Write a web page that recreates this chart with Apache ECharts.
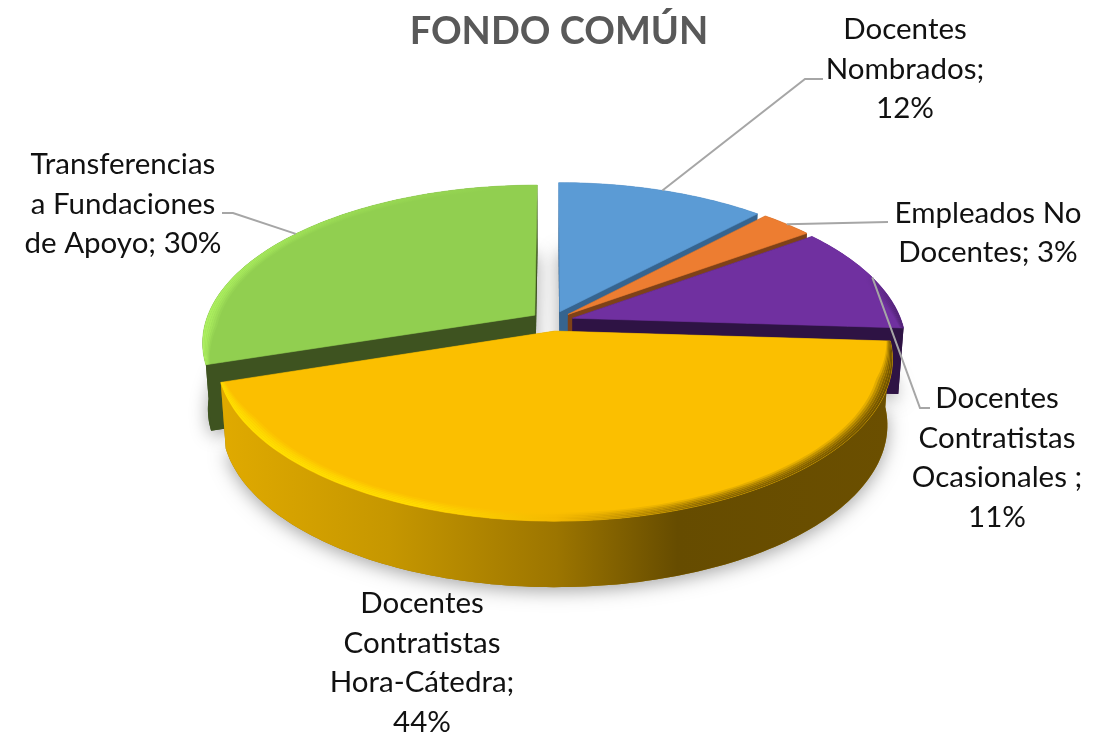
<!DOCTYPE html>
<html>
<head>
<meta charset="utf-8">
<style>html,body{margin:0;padding:0;background:#fff}#c{width:1108px;height:732px}</style>
<script src="https://cdn.jsdelivr.net/npm/echarts@6/dist/echarts.min.js"></script>
</head>
<body>
<div id="c"></div>
<script>
// ---- data ----
const titleText = 'FONDO COMÚN';
const categories = ['Docentes Nombrados', 'Empleados No Docentes', 'Docentes Contratistas Ocasionales', 'Docentes Contratistas Hora-Cátedra', 'Transferencias a Fundaciones de Apoyo'];
const values = [12, 3, 11, 44, 30];
const labelLines = [
  ['Docentes', 'Nombrados;', '12%'],
  ['Empleados No', 'Docentes; 3%'],
  ['Docentes', 'Contratistas', 'Ocasionales ;', '11%'],
  ['Docentes', 'Contratistas', 'Hora-Cátedra;', '44%'],
  ['Transferencias', 'a Fundaciones', 'de Apoyo; 30%']
];
// ---- layout / style ----
const labelCentres = [[905, 69], [988, 233], [997, 458], [422, 663], [123, 204]];
const leaderElbows = [[[805, 79], [823, 79]], [[888, 222]], [[920, 408], [930, 408]], null, [[233, 213], [222, 213]]];
const drawOrder = [4, 0, 1, 2, 3];
const topColors = ['#5B9BD5', '#ED7D31', '#7030A0', '#FBBF00', '#91CF50'];
const wallColors = ['#36648F', '#7E4118', '#2E1344', '#A07800', '#3E5320'];
const sideStops = [
  [[0, '#36648F'], [1, '#36648F']],
  [[0, '#7E4118'], [1, '#7E4118']],
  [[0, '#2E1344'], [1, '#2E1344']],
  [[0, '#E0AA00'], [0.25, '#C69700'], [0.5, '#9C7500'], [0.68, '#664C00'], [1, '#6B4F00']],
  [[0, '#3E5320'], [1, '#3E5320']]
];
const rimStops = [
  null, null,
  [[0, '#7030A0'], [0.6, '#7030A0'], [1, '#4A1F6C']],
  [[0, '#FFE000'], [0.3, '#FFDC00'], [0.5, '#F4B800'], [0.72, '#8A6600'], [1, '#6E5100']],
  [[0, '#ADF060'], [0.4, '#9CDD55'], [1, '#91CF50']]
];
const CX = 552, CY = 321, R = 329, B = 154, K = 0.17, D = 66, EXPLODE = 0.065;
const total = values.reduce((a, b) => a + b, 0);
const starts = values.map((v, i) => values.slice(0, i).reduce((a, b) => a + b, 0) / total * Math.PI * 2);

function project(theta, r, mid, down) {
  const X = r * Math.sin(theta) + EXPLODE * Math.sin(mid);
  const Y = r * Math.cos(theta) + EXPLODE * Math.cos(mid);
  const s = 1 / (1 + K * Y);
  const inset = down ? 0.985 : 1;
  return [CX + X * s * R * inset, CY - Y * s * B + (down ? D : 0)];
}
function arc(a0, a1, r, mid, down) {
  const n = Math.max(4, Math.ceil((a1 - a0) / 0.02)), pts = [];
  for (let i = 0; i <= n; i++) {
    const a = a0 + (a1 - a0) * i / n;
    pts.push(project(a, typeof r === 'function' ? r(a) : r, mid, down));
  }
  return pts;
}
function hex(c) { return [1, 3, 5].map(i => parseInt(c.substr(i, 2), 16)); }
function mix(a, b, t) {
  const x = hex(a), y = hex(b);
  return 'rgb(' + x.map((v, i) => Math.round(v + (y[i] - v) * t)).join(',') + ')';
}
function lin(stops) {
  return { type: 'linear', x: 0, y: 0, x2: 1, y2: 0, colorStops: stops.map(s => ({ offset: s[0], color: s[1] })) };
}

function renderItem(params, api) {
  const i = params.dataIndex;
  const a0 = starts[i];
  const a1 = a0 + api.value(0) / total * Math.PI * 2;
  const mid = (a0 + a1) / 2;
  const z = drawOrder.indexOf(i) * 20 + 1;
  const kids = [];
  const apexT = project(0, 0, mid, false), apexB = project(0, 0, mid, true);
  const topArc = arc(a0, a1, 1, mid, false), botArc = arc(a0, a1, 1, mid, true);
  const flat = { stroke: 'none', lineWidth: 0 };

  // soft cast shadow from the slice's lower plane
  kids.push({ type: 'polygon', z2: z, shape: { points: [apexB].concat(botArc) },
    style: Object.assign({ fill: wallColors[i], shadowBlur: 18, shadowColor: 'rgba(0,0,0,0.35)', shadowOffsetX: 0, shadowOffsetY: 4 }, flat) });
  // the two cut faces
  [a0, a1].forEach(a => {
    const t = project(a, 1, mid, false), b = project(a, 1, mid, true);
    kids.push({ type: 'polygon', z2: z + 1, shape: { points: [apexT, t, b, apexB] },
      style: Object.assign({ fill: wallColors[i] }, flat) });
  });
  // outer rim wall
  kids.push({ type: 'polygon', z2: z + 2, shape: { points: topArc.concat(botArc.slice().reverse()) },
    style: Object.assign({ fill: lin(sideStops[i]) }, flat) });
  // top face
  kids.push({ type: 'polygon', z2: z + 3, shape: { points: [apexT].concat(topArc) },
    style: { fill: topColors[i], stroke: topColors[i], lineWidth: 0.6 } });
  // bevel rings, narrowing toward the slice's two cut corners
  if (rimStops[i]) {
    const rings = 6;
    const width = a => 0.038 * Math.min(1, 0.3 + Math.min(a - a0, a1 - a) / 0.35);
    for (let k = 0; k < rings; k++) {
      const rIn = a => 1 - width(a) * (1 - k / rings), rOut = a => 1 - width(a) * (1 - (k + 1) / rings);
      const w = Math.sin((k + 0.7) / rings * Math.PI / 2);
      const stops = rimStops[i].map(s => [s[0], mix(topColors[i], s[1], w)]);
      const outer = arc(a0, a1, rOut, mid, false), inner = arc(a0, a1, rIn, mid, false).reverse();
      kids.push({ type: 'polygon', z2: z + 4, shape: { points: outer.concat(inner) }, style: Object.assign({ fill: lin(stops) }, flat) });
    }
  }
  // leader line
  if (leaderElbows[i]) {
    const anchor = project(mid, 1, mid, false);
    kids.push({ type: 'polyline', z2: z + 5, shape: { points: [anchor].concat(leaderElbows[i]) },
      style: { stroke: '#A6A6A6', lineWidth: 2, fill: null } });
  }
  // data label
  kids.push({ type: 'text', z2: 500, style: {
    text: labelLines[i].join('\n'), x: labelCentres[i][0], y: labelCentres[i][1],
    align: 'center', verticalAlign: 'middle', fill: '#111111', lineHeight: 39.6,
    font: '29.5px Lato' } });
  return { type: 'group', children: kids };
}

const chart = echarts.init(document.getElementById('c'), null, { renderer: 'canvas' });
chart.setOption({
  backgroundColor: '#ffffff',
  animation: false,
  title: { text: titleText, left: 554, top: 8, textAlign: 'center',
    textStyle: { color: '#595959', fontFamily: 'Lato', fontWeight: 'bold', fontSize: 38 } },
  series: [{
    type: 'custom', coordinateSystem: 'none', silent: true, renderItem,
    data: values.map((v, i) => ({ name: categories[i], value: [v] }))
  }]
});
</script>
</body>
</html>
